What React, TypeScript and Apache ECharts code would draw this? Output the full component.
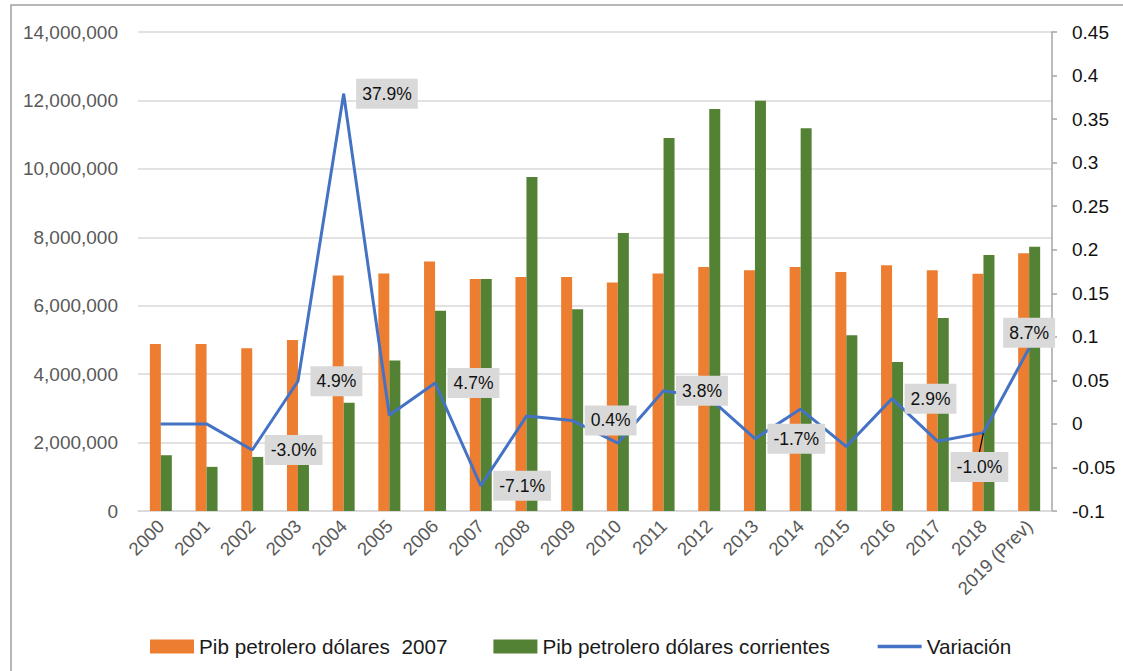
import React, { useEffect, useRef } from "react";
import * as echarts from "echarts";

const categories = ["2000", "2001", "2002", "2003", "2004", "2005", "2006", "2007", "2008", "2009", "2010", "2011", "2012", "2013", "2014", "2015", "2016", "2017", "2018", "2019 (Prev)"];
const pib2007 = [4880000, 4880000, 4755000, 5000000, 6880000, 6940000, 7290000, 6780000, 6840000, 6840000, 6680000, 6940000, 7130000, 7035000, 7130000, 6985000, 7180000, 7035000, 6935000, 7530000];
const pibCorrientes = [1630000, 1290000, 1580000, 1400000, 3165000, 4400000, 5850000, 6780000, 9760000, 5895000, 8125000, 10900000, 11750000, 11990000, 11190000, 5140000, 4355000, 5640000, 7480000, 7725000];
const variacion = [0, 0, -0.030, 0.049, 0.379, 0.010, 0.047, -0.071, 0.009, 0.004, -0.022, 0.038, 0.030, -0.017, 0.017, -0.026, 0.029, -0.020, -0.010, 0.087];
const labeledYears = ["2002", "2003", "2004", "2006", "2007", "2009", "2011", "2013", "2016", "2018", "2019 (Prev)"];
const seriesNames = ["Pib petrolero dólares  2007", "Pib petrolero dólares corrientes", "Variación"];

const FONT = "Liberation Sans";

export default function App() {
  const ref = useRef<HTMLDivElement>(null);
  useEffect(() => {
    document.body.style.margin = "0";
    if (!ref.current) return;
    const chart = echarts.init(ref.current, null, { renderer: "svg" });
    const lineData = variacion.map((v, i) => {
      const cat = categories[i];
      const item: any = { value: v };
      if (labeledYears.includes(cat)) {
        item.label = { show: true };
        if (cat === "2018") {
          item.label = { show: true, position: "bottom", distance: 5 };
          item.labelLine = { show: true, lineStyle: { color: "#000", width: 1.2 } };
        }
        if (cat === "2019 (Prev)") {
          item.label = { show: true, position: "top", distance: 0, offset: [-7, 2] };
        }
      }
      return item;
    });
    chart.setOption({
      animation: false,
      textStyle: { fontFamily: FONT },
      graphic: [
        {
          type: "rect",
          shape: { x: 11, y: 5, width: 1200, height: 700 },
          style: { fill: "none", stroke: "#a0a0a0", lineWidth: 1.5 },
          silent: true,
        },
      ],
      grid: { left: 138, right: 71, top: 32, bottom: 160 },
      legend: {
        left: 145,
        top: 631,
        itemWidth: 44,
        itemHeight: 14,
        itemGap: 46,
        textStyle: { fontSize: 20.7, color: "#1a1a1a", fontFamily: FONT },
        data: [
          { name: seriesNames[0], icon: "rect" },
          { name: seriesNames[1], icon: "rect" },
          { name: seriesNames[2], itemStyle: { opacity: 0 }, lineStyle: { width: 3.5 } },
        ],
      },
      xAxis: {
        type: "category",
        data: categories,
        axisLine: { lineStyle: { color: "#d9d9d9", width: 1.5 } },
        axisTick: { show: false },
        axisLabel: { rotate: 45, color: "#595959", fontSize: 18.5, margin: 12, interval: 0, fontFamily: FONT },
      },
      yAxis: [
        {
          type: "value",
          min: 0,
          max: 14000000,
          interval: 2000000,
          axisLine: { show: false },
          axisTick: { show: false },
          splitLine: { lineStyle: { color: "#d9d9d9", width: 1.5 } },
          axisLabel: {
            color: "#595959",
            fontSize: 19,
            margin: 20,
            fontFamily: FONT,
            formatter: (v: number) => v.toLocaleString("en-US"),
          },
        },
        {
          type: "value",
          min: -0.1,
          max: 0.45,
          interval: 0.05,
          position: "right",
          axisLine: { show: true, lineStyle: { color: "#a6a6a6", width: 1.5 } },
          axisTick: { show: true, length: 5, lineStyle: { color: "#a6a6a6", width: 1.5 } },
          splitLine: { show: false },
          axisLabel: {
            color: "#111",
            fontSize: 19,
            margin: 20,
            fontFamily: FONT,
            formatter: (v: number) => String(+v.toFixed(2)),
          },
        },
      ],
      labelLayout: (params: any) => {
        if (params.seriesIndex === 2 && params.dataIndex === 18) {
          return { dx: -4, dy: 14 };
        }
        return {};
      },
      series: [
        {
          name: seriesNames[0],
          type: "bar",
          data: pib2007,
          barWidth: 11,
          barGap: "0%",
          itemStyle: { color: "#ed7d31" },
        },
        {
          name: seriesNames[1],
          type: "bar",
          data: pibCorrientes,
          barWidth: 11,
          barGap: "0%",
          itemStyle: { color: "#548235" },
        },
        {
          name: seriesNames[2],
          type: "line",
          yAxisIndex: 1,
          data: lineData,
          symbol: "circle",
          symbolSize: 1,
          showSymbol: true,
          itemStyle: { color: "#4472c4" },
          lineStyle: { color: "#4472c4", width: 3 },
          z: 5,
          label: {
            show: false,
            position: "right",
            distance: 12,
            fontSize: 17.5,
            color: "#111",
            fontFamily: FONT,
            backgroundColor: "#d9d9d9",
            padding: [6, 6, 6, 6],
            formatter: (p: any) => (p.value * 100).toFixed(1) + "%",
          },
        },
      ],
    });
    return () => chart.dispose();
  }, []);
  return <div ref={ref} style={{ width: 1123, height: 671 }} />;
}
